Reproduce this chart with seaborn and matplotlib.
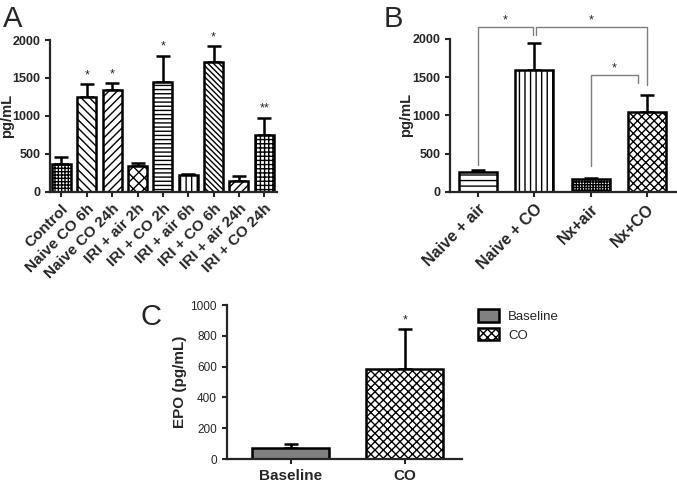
import numpy as np
import pandas as pd
import matplotlib.pyplot as plt
import seaborn as sns

sns.set_style('ticks')
plt.rcParams['font.family'] = ['Liberation Sans', 'DejaVu Sans']
plt.rcParams['hatch.linewidth'] = 1.0

# Panel A - cytokine levels
groups_a = ['Control', 'Naive CO 6h', 'Naive CO 24h', 'IRI + air 2h', 'IRI + CO 2h',
            'IRI + air 6h', 'IRI + CO 6h', 'IRI + air 24h', 'IRI + CO 24h']
mean_a = [365, 1250, 1340, 343, 1442, 222, 1715, 147, 748]
err_a = [90, 168, 90, 32, 352, 10, 205, 65, 230]
stars_a = ['', '*', '*', '', '*', '', '*', '', '**']
hatch_a = ['+++++', '\\\\\\\\', '////', 'xxx', '----', '|||', '\\\\\\\\\\\\', '////', '++++']

# Panel B
groups_b = ['Naive + air', 'Naive + CO', 'Nx+air', 'Nx+CO']
mean_b = [262, 1600, 166, 1040]
err_b = [18, 344, 14, 222]
hatch_b = ['---', '|||', '++++++', 'xxxx']
# brackets: (left, right, left leg bottom, top, right leg bottom)
brackets_b = [(0, 0.97, 350, 2160, 2050),
              (1.03, 3, 2050, 2160, 1400),
              (2, 2.85, 330, 1530, 1420)]

# Panel C - EPO
groups_c = ['Baseline', 'CO']
mean_c = [73, 582]
err_c = [22, 262]
hatch_c = ['', 'xxxx']
face_c = ['#808080', 'white']


def bar_panel(ax, groups, means, errs, hatches, width, faces=None):
    df = pd.DataFrame({'group': groups, 'value': means})
    sns.barplot(data=df, x='group', y='value', color='white', width=width,
                errorbar=None, saturation=1, ax=ax)
    for i, p in enumerate(ax.patches):
        p.set_hatch(hatches[i])
        p.set_edgecolor('black')
        p.set_linewidth(1.8)
        p.set_zorder(2)
        if faces is not None:
            p.set_facecolor(faces[i])
    ax.errorbar(range(len(groups)), means,
                yerr=[np.zeros(len(means)), errs], fmt='none', ecolor='black',
                elinewidth=1.8, capsize=5, capthick=1.8, zorder=1)
    for s in ['top', 'right']:
        ax.spines[s].set_visible(False)
    for s in ['left', 'bottom']:
        ax.spines[s].set_linewidth(1.6)
    ax.tick_params(width=1.5, length=3.5)
    ax.set_xlabel('')


fig = plt.figure(figsize=(6.77, 4.82), dpi=100)
ax_a = fig.add_axes([0.0739, 0.6023, 0.3353, 0.3147])
ax_b = fig.add_axes([0.6647, 0.6023, 0.3338, 0.3168])
ax_c = fig.add_axes([0.3349, 0.0477, 0.3471, 0.3195])

# A
bar_panel(ax_a, groups_a, mean_a, err_a, hatch_a, 0.75)
ax_a.set_xlim(-0.45, 8.5)
ax_a.set_ylim(0, 2000)
ax_a.set_yticks([0, 500, 1000, 1500, 2000])
ax_a.set_ylabel('pg/mL', fontsize=10.5, fontweight='bold')
ax_a.yaxis.set_label_coords(-0.16, 0.5)
ax_a.set_xticks(range(len(groups_a)))
ax_a.set_xticklabels(groups_a, rotation=45, ha='right', rotation_mode='anchor',
                     fontsize=11, fontweight='bold')
for lab in ax_a.get_yticklabels():
    lab.set_fontweight('bold')
    lab.set_fontsize(9)
for i, s in enumerate(stars_a):
    if s:
        ax_a.text(i, mean_a[i] + err_a[i] + 40, s, ha='center', va='bottom', fontsize=9)

# B
bar_panel(ax_b, groups_b, mean_b, err_b, hatch_b, 0.675)
ax_b.set_xlim(-0.5, 3.52)
ax_b.set_ylim(0, 2000)
ax_b.set_yticks([0, 500, 1000, 1500, 2000])
ax_b.set_ylabel('pg/mL', fontsize=10.5, fontweight='bold')
ax_b.yaxis.set_label_coords(-0.165, 0.5)
ax_b.set_xticks(range(len(groups_b)))
ax_b.set_xticklabels(groups_b, rotation=45, ha='right', rotation_mode='anchor',
                     fontsize=11.5, fontweight='bold')
for lab in ax_b.get_yticklabels():
    lab.set_fontweight('bold')
    lab.set_fontsize(9)
for x0, x1, y0, ytop, y1 in brackets_b:
    ax_b.plot([x0, x0, x1, x1], [y0, ytop, ytop, y1], color='#7f7f7f', lw=1.0,
              clip_on=False, zorder=3)
    ax_b.text((x0 + x1) / 2, ytop + 10, '*', ha='center', va='bottom', fontsize=9)

# C
bar_panel(ax_c, groups_c, mean_c, err_c, hatch_c, 0.68, faces=face_c)
ax_c.set_xlim(-0.56, 1.5)
ax_c.set_ylim(0, 1000)
ax_c.set_yticks([0, 200, 400, 600, 800, 1000])
ax_c.set_ylabel('EPO (pg/mL)', fontsize=11, fontweight='bold')
ax_c.yaxis.set_label_coords(-0.17, 0.5)
ax_c.set_xticks(range(len(groups_c)))
ax_c.set_xticklabels(groups_c, fontsize=11, fontweight='bold')
for lab in ax_c.get_yticklabels():
    lab.set_fontsize(8.5)
ax_c.text(1, mean_c[1] + err_c[1] + 20, '*', ha='center', va='bottom', fontsize=9)
fig.legend(handles=ax_c.patches[:2], labels=groups_c, loc='upper left',
           bbox_to_anchor=(0.688, 0.383), frameon=False, fontsize=9.5,
           handlelength=1.6, handleheight=1.1, handletextpad=0.7, labelspacing=0.35)

# panel letters
fig.text(0.004, 0.944, 'A', fontsize=21)
fig.text(0.567, 0.944, 'B', fontsize=21)
fig.text(0.208, 0.325, 'C', fontsize=21)

fig.savefig('out.png', dpi=100)
